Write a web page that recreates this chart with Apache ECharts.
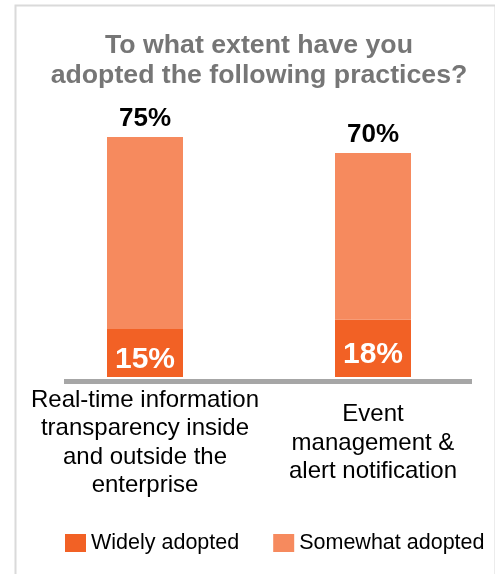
<!DOCTYPE html>
<html>
<head>
<meta charset="utf-8">
<script src="https://cdn.jsdelivr.net/npm/echarts@6/dist/echarts.min.js"></script>
<style>
  html, body { margin: 0; padding: 0; background: #ffffff; }
  #chart { width: 495px; height: 574px; }
</style>
</head>
<body>
<div id="chart"></div>
<script>
// Survey results: share of respondents adopting each practice
const categories = [
  'Real-time information transparency inside and outside the enterprise',
  'Event management & alert notification'
];
const tickLabels = [
  'Real-time information\ntransparency inside\nand outside the\nenterprise',
  'Event\nmanagement &\nalert notification'
];
const widelyAdopted = [15, 18];
const somewhatAdopted = [60, 52];
const seriesNames = ['Widely adopted', 'Somewhat adopted'];
const titleText = 'To what extent have you\nadopted the following practices?';

const FONT = '"Liberation Sans", Arial, sans-serif';
const chart = echarts.init(document.getElementById('chart'));

chart.setOption({
  animation: false,
  backgroundColor: '#ffffff',
  textStyle: { fontFamily: FONT },
  title: {
    text: titleText,
    left: 254,
    textAlign: 'center',
    top: 26,
    textStyle: {
      fontFamily: FONT,
      fontSize: 26.7,
      fontWeight: 'bold',
      color: '#767676',
      lineHeight: 30
    }
  },
  legend: {
    data: seriesNames,
    left: 60,
    top: 527,
    itemWidth: 21,
    itemHeight: 18,
    itemGap: 34,
    icon: 'rect',
    textStyle: { fontFamily: FONT, fontSize: 21.5, color: '#000000' }
  },
  grid: { left: 31, right: 8, top: 57, bottom: 197 },
  xAxis: {
    type: 'category',
    data: categories,
    axisLine: { show: false },
    axisTick: { show: false },
    axisLabel: {
      interval: 0,
      margin: 66,
      verticalAlign: 'middle',
      fontFamily: FONT,
      fontSize: 24,
      lineHeight: 28.5,
      color: '#000000',
      formatter: (v, i) => tickLabels[i]
    }
  },
  yAxis: {
    type: 'value',
    min: 0,
    max: 100,
    show: false
  },
  graphic: [
    {
      // chart frame
      type: 'rect',
      left: 13,
      top: 3,
      shape: { width: 480, height: 600 },
      style: { fill: 'none', stroke: '#dadada', lineWidth: 2 },
      silent: true
    },
    {
      // baseline under the bars
      type: 'rect',
      left: 64,
      top: 379,
      shape: { width: 408, height: 5 },
      style: { fill: '#a6a6a6' },
      silent: true
    }
  ],
  series: [
    {
      name: seriesNames[0],
      type: 'bar',
      stack: 'adoption',
      barWidth: 76,
      data: widelyAdopted,
      itemStyle: { color: '#f26125' },
      label: {
        show: true,
        position: 'inside',
        offset: [0, 7],
        formatter: p => p.value + '%',
        fontFamily: FONT,
        fontSize: 30,
        fontWeight: 'bold',
        color: '#ffffff'
      }
    },
    {
      name: seriesNames[1],
      type: 'bar',
      stack: 'adoption',
      barWidth: 76,
      data: somewhatAdopted,
      itemStyle: { color: '#f68a5e' },
      label: {
        show: true,
        position: 'top',
        distance: 5,
        formatter: p => (widelyAdopted[p.dataIndex] + somewhatAdopted[p.dataIndex]) + '%',
        fontFamily: FONT,
        fontSize: 26,
        fontWeight: 'bold',
        color: '#000000'
      }
    }
  ]
});
</script>
</body>
</html>
